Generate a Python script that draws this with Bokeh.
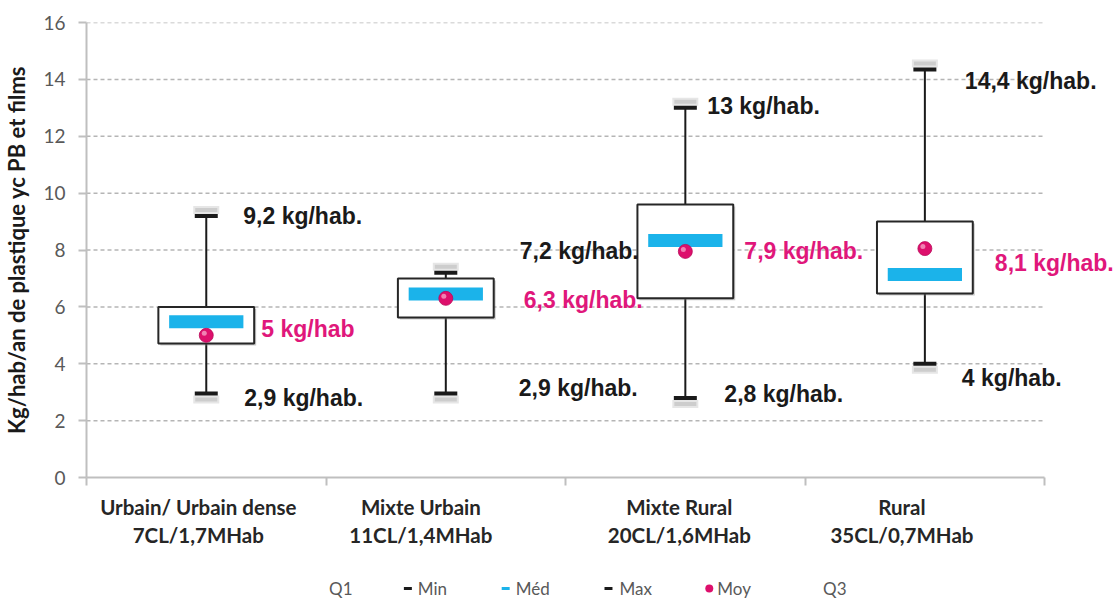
import numpy as np
from bokeh.plotting import figure
from bokeh.layouts import column
from bokeh.models import FixedTicker, Range1d, ColumnDataSource
from bokeh.core.properties import value
from bokeh.embed import file_html
from bokeh.resources import INLINE

# ---------------- data ----------------
categories = ["Urbain/ Urbain dense\n7CL/1,7MHab", "Mixte Urbain\n11CL/1,4MHab",
              "Mixte Rural\n20CL/1,6MHab", "Rural\n35CL/0,7MHab"]
v_min = [2.95, 2.95, 2.8, 4.0]
v_q1 = [4.71, 5.63, 6.3, 6.47]
v_med = [5.48, 6.45, 8.33, 7.14]
v_q3 = [6.0, 7.0, 9.6, 9.0]
v_max = [9.2, 7.2, 13.0, 14.35]
v_mean = [5.0, 6.3, 7.95, 8.05]

y_ticks = [0, 2, 4, 6, 8, 10, 12, 14, 16]

label_texts = ["9,2 kg/hab.", "2,9 kg/hab.", "5 kg/hab",
               "7,2 kg/hab.", "6,3 kg/hab.", "2,9 kg/hab.",
               "13 kg/hab.", "7,9 kg/hab.", "2,8 kg/hab.",
               "14,4 kg/hab.", "8,1 kg/hab.", "4 kg/hab."]
label_cat = [0, 0, 0, 1, 1, 1, 2, 2, 2, 3, 3, 3]
label_stat = ["max", "min", "mean",
              "max", "mean", "min",
              "max", "mean", "min",
              "max", "mean", "min"]

legend_names = ["Q1", "Min", "Méd", "Max", "Moy", "Q3"]
legend_kind = [None, "dash", "dash", "dash", "dot", None]

y_title = "Kg/hab/an de plastique yc PB et films"

# ---------------- layout / style ----------------
W = 1117
H_MAIN = 574
LEG_H = 24
B_LEFT, B_TOP = 84, 22
FRAME_H = 455
B_BOTTOM = H_MAIN - B_TOP - FRAME_H
FRAME_W = W - B_LEFT
PX_CAT = 240.0
Y_MAX = 16
PX_Y = FRAME_H / Y_MAX
X_END = FRAME_W / PX_CAT

cat_label_shift_px = [-8, -25, -6, -23]   # category labels sit slightly left of the boxes

label_xoff = [37, 38, 55, 74, 78, 73, 22, 59, 39, 40, 70, 37]
label_yoff = [0, 4, -6, -22, 2, -6, -2, 0, -4, 12, 14, 14]

legend_text_px = [327, 416, 514, 618, 716, 822]      # left edge of legend texts (canvas px)
legend_mark_px = [None, 406, 504, 607, 708, None]   # centre of legend marks
legend_y_px = 14                                     # within legend strip

MAGENTA = "#e0177b"
CYAN = "#1bb3ea"
BLACK = "#1a1a1a"
GREY_TXT = "#595959"
AXIS_COL = "#bfbfbf"
DOT = "#dd0f6c"

ncat = len(categories)
xc = [i + 0.5 for i in range(ncat)]
x_lab = [x + s / PX_CAT for x, s in zip(xc, cat_label_shift_px)]

p = figure(width=W, height=H_MAIN, output_backend="svg", toolbar_location=None,
           x_range=Range1d(0, X_END), y_range=Range1d(0, Y_MAX),
           min_border_left=B_LEFT, min_border_top=B_TOP, min_border_bottom=B_BOTTOM,
           min_border_right=0)
p.outline_line_color = None
p.xgrid.visible = False
p.ygrid.visible = False
p.background_fill_color = "white"
p.border_fill_color = "white"

# y axis
p.yaxis.ticker = FixedTicker(ticks=y_ticks)
p.yaxis.axis_line_color = AXIS_COL
p.yaxis.axis_line_width = 2
p.yaxis.major_tick_line_color = AXIS_COL
p.yaxis.major_tick_line_width = 2
p.yaxis.major_tick_out = 8
p.yaxis.major_tick_in = 0
p.yaxis.minor_tick_line_color = None
p.yaxis.major_label_text_font = "Lato"
p.yaxis.major_label_text_font_size = "19px"
p.yaxis.major_label_text_color = GREY_TXT
p.yaxis.major_label_standoff = 13
p.yaxis.axis_label = y_title
p.yaxis.axis_label_text_font = "Lato"
p.yaxis.axis_label_text_font_style = "bold"
p.yaxis.axis_label_text_font_size = "22px"
p.yaxis.axis_label_text_color = BLACK
p.yaxis.axis_label_standoff = 10

# x axis
p.xaxis.ticker = FixedTicker(ticks=x_lab, minor_ticks=list(range(ncat + 1)))
p.xaxis.bounds = (0, ncat)
p.xaxis.major_label_overrides = {x: c for x, c in zip(x_lab, categories)}
p.xaxis.axis_line_color = AXIS_COL
p.xaxis.axis_line_width = 2
p.xaxis.major_tick_out = 0
p.xaxis.major_tick_in = 0
p.xaxis.major_tick_line_color = None
p.xaxis.minor_tick_out = 8
p.xaxis.minor_tick_in = 0
p.xaxis.minor_tick_line_color = AXIS_COL
p.xaxis.minor_tick_line_width = 2
p.xaxis.major_label_text_font = "Lato"
p.xaxis.major_label_text_font_style = "bold"
p.xaxis.major_label_text_font_size = "20.5px"
p.xaxis.major_label_text_color = "#262626"
p.xaxis.major_label_standoff = 9

# dashed gridlines
gy = [t for t in y_ticks if t > 0]
p.segment(x0=[0] * len(gy), x1=[ncat] * len(gy), y0=gy, y1=gy,
          line_color="#b5b5b5", line_width=1.5, line_dash="4 3")

half_box = 0.2
half_cap = 0.048
dx2 = 2 / PX_CAT
dy2 = 2 / PX_Y
cap_sh = 6 / PX_Y

# whiskers
p.segment(x0=xc, x1=xc, y0=v_q3, y1=v_max, line_color=BLACK, line_width=2)
p.segment(x0=xc, x1=xc, y0=v_q1, y1=v_min, line_color=BLACK, line_width=2)

# cap shadows
for dy in (cap_sh, -cap_sh):
    base = v_max if dy > 0 else v_min
    p.rect(x=xc, y=[v + dy for v in base], width=26, height=8,
           width_units="screen", height_units="screen", fill_color="#e6e6e6", line_color=None)
    p.rect(x=xc, y=[v + dy for v in base], width=22, height=4,
           width_units="screen", height_units="screen", fill_color="#cdcdcd", line_color=None)

# caps
p.segment(x0=[x - half_cap for x in xc], x1=[x + half_cap for x in xc], y0=v_max, y1=v_max,
          line_color=BLACK, line_width=4)
p.segment(x0=[x - half_cap for x in xc], x1=[x + half_cap for x in xc], y0=v_min, y1=v_min,
          line_color=BLACK, line_width=4)

# box shadows and boxes
p.quad(left=[x - half_box + dx2 for x in xc], right=[x + half_box + dx2 for x in xc],
       bottom=[v - dy2 for v in v_q1], top=[v - dy2 for v in v_q3],
       fill_color="#8c8c8c", fill_alpha=0.45, line_color=None)
p.quad(left=[x - half_box for x in xc], right=[x + half_box for x in xc],
       bottom=v_q1, top=v_q3, fill_color="white", line_color="#262626", line_width=2)

# median bars
p.rect(x=xc, y=v_med, width=0.31, height=13, height_units="screen",
       fill_color=CYAN, line_color=None)

# mean dots
p.scatter(x=xc, y=v_mean, size=14, marker="circle", fill_color=DOT,
          line_color="#b90a59", line_width=0.8)
p.scatter(x=[x - 2 / PX_CAT for x in xc], y=[v + 2 / PX_Y for v in v_mean], size=5,
          marker="circle", fill_color="#f59cc4", fill_alpha=0.8, line_color=None)

# value labels
stats = {"max": v_max, "min": v_min, "mean": v_mean}
lsrc = ColumnDataSource(dict(
    x=[xc[c] for c in label_cat],
    y=[stats[s][c] for s, c in zip(label_stat, label_cat)],
    text=label_texts,
    color=[MAGENTA if s == "mean" else BLACK for s in label_stat],
    xo=label_xoff, yo=label_yoff))
p.text(x="x", y="y", text="text", source=lsrc, x_offset="xo", y_offset="yo",
       text_color="color", text_font=value("Liberation Sans"), text_font_style="bold",
       text_font_size="23px", text_align="left", text_baseline="middle")

# ---------------- legend strip (frame aligned with the main plot frame) ----------------
leg = figure(width=W, height=LEG_H, output_backend="svg", toolbar_location=None,
             x_range=Range1d(B_LEFT, W), y_range=Range1d(LEG_H, 0), min_border=0,
             x_axis_type=None, y_axis_type=None)
leg.outline_line_color = None
leg.background_fill_color = "white"
leg.border_fill_color = "white"

leg.text(x=legend_text_px, y=[legend_y_px] * len(legend_names), text=legend_names,
         text_font=value("Lato"), text_font_size="17px", text_color=GREY_TXT,
         text_align="left", text_baseline="middle")

mark_cols = [None, BLACK, CYAN, BLACK, DOT, None]
dash_x = [m for m, k in zip(legend_mark_px, legend_kind) if k == "dash"]
dash_c = [c for c, k in zip(mark_cols, legend_kind) if k == "dash"]
leg.segment(x0=[m - 4 for m in dash_x], x1=[m + 4 for m in dash_x],
            y0=[legend_y_px] * len(dash_x), y1=[legend_y_px] * len(dash_x),
            line_color=dash_c, line_width=3)
dot_x = [m for m, k in zip(legend_mark_px, legend_kind) if k == "dot"]
leg.scatter(x=dot_x, y=[legend_y_px] * len(dot_x), size=8, marker="circle",
            fill_color=DOT, line_color=None)

open("out.html", "w").write(file_html(column(p, leg), INLINE))
